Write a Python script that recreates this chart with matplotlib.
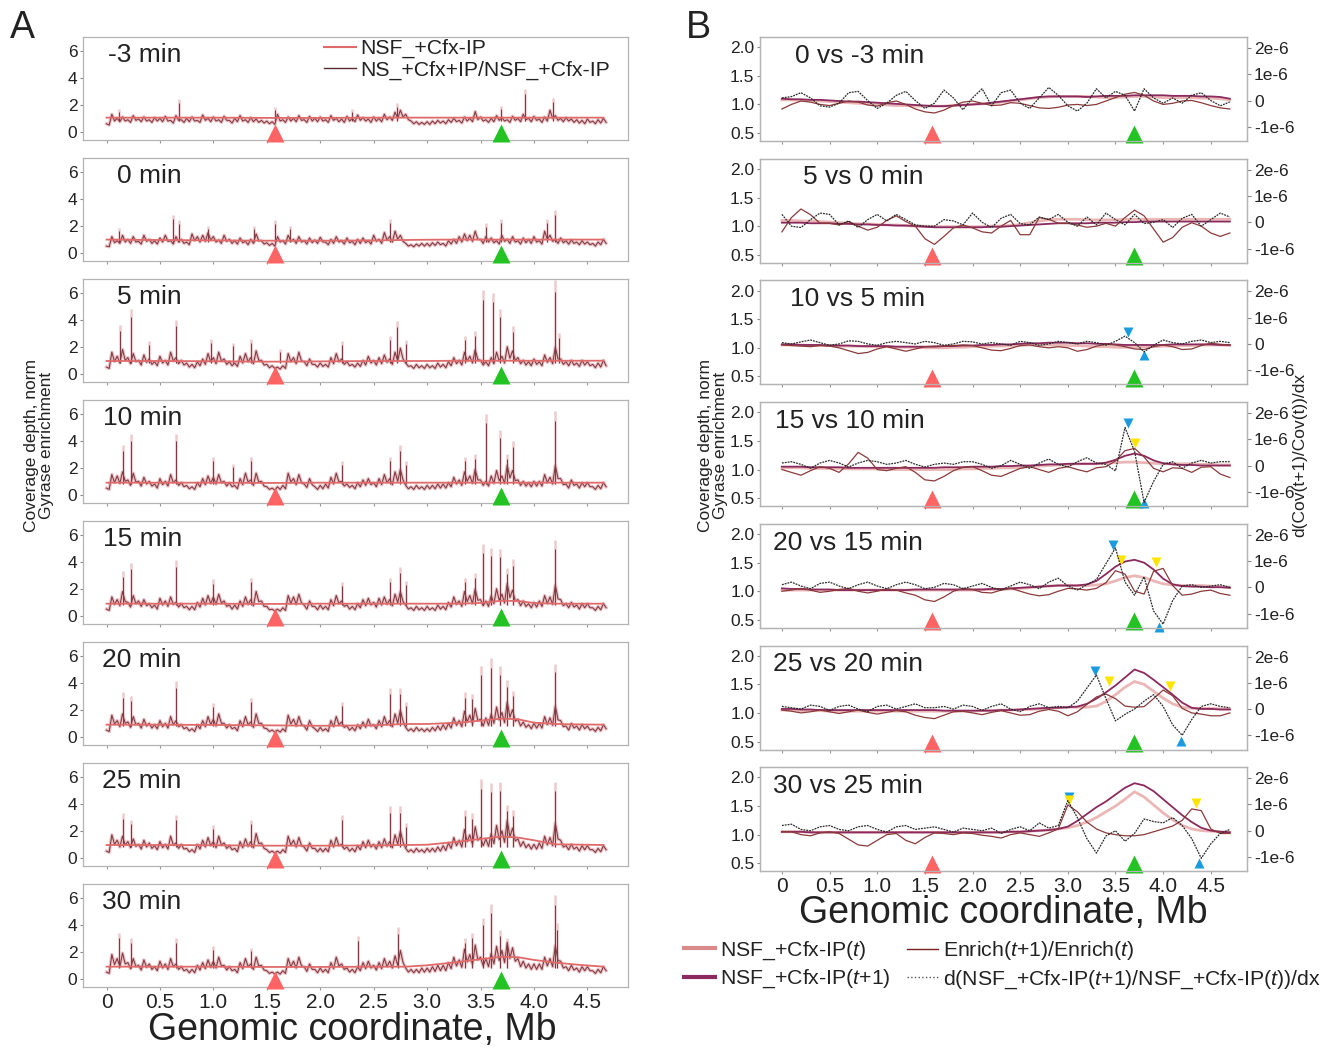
import numpy as np
import matplotlib
matplotlib.use('Agg')
import matplotlib.pyplot as plt
from matplotlib.lines import Line2D

plt.rcParams['font.family'] = ['Liberation Sans', 'DejaVu Sans']
plt.rcParams['mathtext.fontset'] = 'custom'
plt.rcParams['mathtext.it'] = 'Liberation Sans:italic'
plt.rcParams['mathtext.rm'] = 'Liberation Sans'
plt.rcParams['text.color'] = '#222222'

# ---------------- DATA ----------------
# Panel A: coverage ratio tracks; local maxima every 0.05 Mb (0 .. 4.65 Mb)
# and local minima between them (x + 0.025 Mb)
A_titles = ['-3 min', '0 min', '5 min', '10 min', '15 min', '20 min', '25 min', '30 min']
xA = np.round(np.arange(94) * 0.05, 2)

A_m3 = [0.6,1.3,1.0,1.1,0.9,1.2,0.95,1.1,0.9,1.05,
        1.0,1.15,0.85,1.2,0.9,1.0,1.1,0.85,1.25,1.0,
        1.1,0.9,1.15,0.85,1.0,1.2,0.9,1.05,0.95,0.85,
        0.8,0.75,1.3,0.9,1.1,1.0,1.2,0.9,1.15,1.0,
        1.1,0.9,1.2,1.0,0.95,1.15,1.0,1.25,1.05,0.95,
        1.1,1.0,1.3,1.1,1.45,1.6,1.3,0.8,0.75,0.7,
        0.75,0.8,0.85,0.8,0.9,1.0,0.85,1.1,1.0,1.5,
        1.1,0.9,1.0,1.2,1.05,0.9,1.15,1.0,1.3,1.0,
        1.15,0.95,1.1,1.6,1.2,1.0,1.05,0.95,0.9,0.85,
        0.95,0.8,0.9,1.0]
A_0 = [0.5,1.2,0.9,1.3,1.0,1.2,0.85,1.3,1.0,0.9,
       1.1,1.3,0.9,1.2,1.0,0.8,1.4,1.2,1.3,1.5,
       1.2,0.95,1.3,1.0,0.9,1.1,0.85,1.0,1.4,0.9,
       0.75,0.7,1.2,0.9,1.3,1.0,1.2,0.9,1.1,0.95,
       1.15,0.8,1.0,1.2,0.9,1.1,0.85,1.0,1.1,0.9,
       1.3,1.0,1.5,1.2,1.6,1.3,0.7,0.6,0.65,0.7,
       0.7,0.75,0.8,0.7,0.9,1.0,1.2,1.4,1.3,1.6,
       1.0,1.2,1.1,0.9,1.3,1.0,1.2,0.9,1.1,1.0,
       1.2,0.9,1.6,1.3,1.0,1.1,0.9,0.95,0.8,0.9,
       0.8,0.7,0.8,1.0]
A_5 = [0.5,1.6,1.3,1.8,1.2,1.5,1.0,1.4,1.1,0.9,
       1.3,1.0,1.6,1.2,1.0,0.8,0.7,0.9,1.1,1.5,
       1.2,1.6,1.1,0.9,0.8,1.3,1.5,1.2,1.7,1.0,
       0.7,0.6,0.5,0.6,1.5,1.2,1.6,0.9,1.1,0.7,
       0.8,0.7,1.2,1.5,1.1,0.9,0.7,0.8,1.0,1.3,
       1.0,1.2,1.4,1.1,1.6,1.9,0.8,0.6,0.7,0.6,
       0.7,0.6,0.8,0.7,0.9,1.2,1.0,1.6,1.3,1.8,
       1.0,0.9,1.2,1.6,1.3,2.0,1.7,1.2,1.0,0.9,
       1.1,0.9,1.4,1.2,2.0,1.1,0.9,1.0,0.8,1.0,
       0.9,0.7,0.8,1.0]
A_10 = [0.5,1.5,1.4,1.7,1.1,1.6,1.0,1.3,1.0,0.8,
        1.2,1.0,1.5,1.1,0.9,0.7,0.6,0.9,1.2,1.4,
        1.3,1.5,1.0,0.9,0.7,1.2,1.6,1.1,1.6,1.0,
        0.6,0.5,0.6,0.7,1.6,1.2,1.5,0.8,1.2,0.6,
        0.7,0.8,1.3,1.6,1.0,0.8,0.7,0.9,1.1,1.2,
        0.9,1.2,1.5,1.2,1.7,1.9,0.7,0.6,0.7,0.6,
        0.7,0.7,0.8,0.8,0.9,1.3,1.1,1.7,1.4,1.9,
        1.1,1.0,1.4,1.8,1.4,2.2,1.8,1.1,1.0,0.9,
        1.0,1.0,1.5,1.3,2.2,1.2,0.8,1.1,0.8,0.9,
        0.9,0.6,0.7,0.9]
A_15 = [0.5,1.4,1.2,1.8,1.0,1.5,1.1,1.2,0.9,0.8,
        1.3,1.1,1.4,1.0,0.9,0.7,0.7,1.0,1.3,1.5,
        1.4,1.6,1.1,0.8,0.8,1.1,1.4,1.2,1.8,1.1,
        0.7,0.5,0.5,0.6,1.5,1.4,1.6,0.8,1.1,0.7,
        0.8,0.7,1.2,1.5,1.1,0.8,0.7,0.9,1.2,1.3,
        1.0,1.3,1.4,1.2,1.6,1.8,0.8,0.6,0.7,0.6,
        0.7,0.6,0.8,0.7,1.0,1.4,1.1,1.8,1.5,2.0,
        1.2,1.1,1.5,2.0,1.6,2.4,1.9,1.2,1.1,0.9,
        1.0,1.1,1.5,1.4,2.3,1.2,0.9,1.0,0.8,0.9,
        0.9,0.6,0.7,0.9]
A_20 = [0.5,1.6,1.2,1.7,1.1,1.5,1.0,1.3,1.0,0.9,
        1.2,1.0,1.5,1.2,0.9,0.7,0.6,0.9,1.2,1.5,
        1.3,1.7,1.0,0.9,0.7,1.2,1.5,1.1,1.7,1.0,
        0.6,0.5,0.5,0.6,1.6,1.3,1.5,0.8,1.2,0.6,
        0.7,0.6,1.2,1.5,1.1,0.8,0.7,0.9,1.1,1.3,
        0.9,1.2,1.5,1.2,1.7,2.0,0.7,0.6,0.7,0.6,
        0.6,0.7,0.8,0.9,1.0,1.4,1.2,1.9,1.6,2.1,
        1.3,1.4,1.7,2.2,1.8,2.6,2.0,1.3,1.1,0.9,
        1.0,1.0,1.5,1.4,2.3,1.2,0.8,1.0,0.8,0.9,
        0.8,0.6,0.7,0.9]
A_25 = [0.5,1.7,1.3,1.6,1.2,1.4,1.0,1.3,1.1,0.9,
        1.2,1.0,1.6,1.1,1.0,0.7,0.6,1.0,1.3,1.5,
        1.2,1.6,1.1,0.9,0.7,1.2,1.4,1.2,1.8,1.1,
        0.6,0.5,0.5,0.6,1.6,1.3,1.5,0.8,1.1,0.7,
        0.7,0.7,1.3,1.5,1.0,0.8,0.7,0.9,1.2,1.3,
        1.0,1.2,1.4,1.2,1.7,2.0,0.7,0.6,0.7,0.6,
        0.7,0.7,0.8,0.9,1.1,1.5,1.3,2.1,1.7,2.3,
        1.5,1.4,1.8,2.4,2.0,2.8,2.2,1.4,1.2,1.0,
        1.0,1.1,1.6,1.5,2.6,1.3,0.9,1.0,0.8,0.9,
        0.9,0.6,0.7,0.9]
A_30 = [0.5,1.8,1.5,1.9,1.2,1.5,1.0,1.4,1.1,0.9,
        1.3,1.1,1.5,1.1,0.9,0.7,0.7,1.0,1.2,1.4,
        1.3,1.6,1.0,0.9,0.7,1.2,1.5,1.1,1.6,1.0,
        0.6,0.5,0.5,0.6,1.5,1.3,1.6,0.9,1.1,0.7,
        0.8,0.7,1.2,1.6,1.1,0.8,0.7,0.9,1.2,1.3,
        1.0,1.2,1.5,1.3,1.7,2.1,0.8,0.7,0.7,0.8,
        0.8,0.9,1.0,1.0,1.2,1.6,1.4,2.2,1.8,2.5,
        1.6,1.5,1.9,2.4,2.1,2.7,2.3,1.5,1.3,1.1,
        1.1,1.1,1.6,1.5,2.5,1.3,0.9,1.0,0.8,0.9,
        0.9,0.6,0.7,0.9]
A_tracks = [A_m3, A_0, A_5, A_10, A_15, A_20, A_25, A_30]

L_m3 = [0.5,0.8,0.75,0.8,0.7,0.85,0.75,0.8,0.7,0.8,
        0.75,0.8,0.65,0.85,0.7,0.75,0.8,0.7,0.85,0.75,
        0.8,0.7,0.85,0.65,0.75,0.8,0.7,0.75,0.7,0.65,
        0.6,0.55,0.8,0.7,0.8,0.75,0.85,0.7,0.8,0.75,
        0.8,0.7,0.85,0.75,0.7,0.8,0.75,0.85,0.8,0.7,
        0.8,0.75,0.9,0.85,1.0,1.1,0.9,0.6,0.55,0.55,
        0.55,0.6,0.65,0.6,0.7,0.75,0.65,0.8,0.75,0.9,
        0.8,0.7,0.75,0.85,0.8,0.7,0.85,0.75,0.9,0.75,
        0.85,0.7,0.8,1.0,0.85,0.75,0.8,0.7,0.65,0.6,
        0.7,0.6,0.65,0.7]
L_0 = [0.45,0.75,0.7,0.8,0.7,0.8,0.65,0.85,0.7,0.65,
       0.8,0.85,0.65,0.8,0.7,0.6,0.9,0.8,0.85,0.95,
       0.8,0.7,0.85,0.7,0.65,0.75,0.6,0.7,0.9,0.65,
       0.55,0.5,0.8,0.65,0.85,0.7,0.8,0.65,0.75,0.7,
       0.8,0.6,0.7,0.8,0.65,0.75,0.6,0.7,0.75,0.65,
       0.85,0.7,0.95,0.8,1.0,0.85,0.5,0.45,0.5,0.5,
       0.5,0.55,0.6,0.5,0.65,0.7,0.8,0.9,0.85,1.0,
       0.7,0.8,0.75,0.65,0.85,0.7,0.8,0.65,0.75,0.7,
       0.8,0.65,1.0,0.85,0.7,0.75,0.65,0.7,0.6,0.65,
       0.6,0.5,0.6,0.7]
L_5 = [0.4,0.9,0.8,1.0,0.75,0.9,0.65,0.85,0.7,0.6,
       0.8,0.65,0.95,0.75,0.65,0.5,0.45,0.6,0.7,0.9,
       0.75,0.95,0.7,0.6,0.55,0.8,0.9,0.75,1.0,0.65,
       0.45,0.4,0.35,0.4,0.9,0.75,0.95,0.6,0.7,0.5,
       0.55,0.5,0.75,0.9,0.7,0.6,0.5,0.55,0.65,0.8,
       0.65,0.75,0.85,0.7,0.95,1.1,0.55,0.4,0.45,0.4,
       0.45,0.4,0.5,0.45,0.6,0.75,0.65,0.95,0.8,1.05,
       0.65,0.6,0.75,0.95,0.8,1.15,1.0,0.75,0.65,0.6,
       0.7,0.6,0.85,0.75,1.1,0.7,0.6,0.65,0.55,0.65,
       0.6,0.45,0.5,0.6]
L_10 = [0.4,0.9,0.85,1.0,0.7,0.95,0.65,0.8,0.65,0.5,
        0.75,0.65,0.9,0.7,0.6,0.45,0.4,0.6,0.75,0.85,
        0.8,0.9,0.65,0.6,0.45,0.75,0.95,0.7,0.95,0.65,
        0.4,0.35,0.4,0.45,0.95,0.75,0.9,0.55,0.75,0.4,
        0.45,0.5,0.8,0.95,0.65,0.55,0.45,0.6,0.7,0.75,
        0.6,0.75,0.9,0.75,1.0,1.1,0.45,0.4,0.45,0.4,
        0.45,0.45,0.5,0.5,0.6,0.8,0.7,1.0,0.85,1.1,
        0.7,0.65,0.85,1.05,0.85,1.25,1.05,0.7,0.65,0.6,
        0.65,0.65,0.9,0.8,1.2,0.75,0.5,0.7,0.5,0.6,
        0.6,0.4,0.45,0.6]
L_15 = [0.4,0.85,0.75,1.05,0.65,0.9,0.7,0.75,0.6,0.5,
        0.8,0.7,0.85,0.65,0.6,0.45,0.45,0.65,0.8,0.9,
        0.85,0.95,0.7,0.5,0.5,0.7,0.85,0.75,1.05,0.7,
        0.45,0.35,0.35,0.4,0.9,0.85,0.95,0.5,0.7,0.45,
        0.5,0.45,0.75,0.9,0.7,0.5,0.45,0.6,0.75,0.8,
        0.65,0.8,0.85,0.75,0.95,1.05,0.5,0.4,0.45,0.4,
        0.45,0.4,0.5,0.45,0.65,0.85,0.7,1.05,0.9,1.15,
        0.75,0.7,0.9,1.15,0.95,1.35,1.1,0.75,0.7,0.6,
        0.65,0.7,0.9,0.85,1.25,0.75,0.6,0.65,0.5,0.6,
        0.6,0.4,0.45,0.6]
L_20 = [0.4,0.95,0.75,1.0,0.7,0.9,0.65,0.8,0.65,0.6,
        0.75,0.65,0.9,0.75,0.6,0.45,0.4,0.6,0.75,0.9,
        0.8,1.0,0.65,0.6,0.45,0.75,0.9,0.7,1.0,0.65,
        0.4,0.35,0.35,0.4,0.95,0.8,0.9,0.5,0.75,0.4,
        0.45,0.4,0.75,0.9,0.7,0.5,0.45,0.6,0.7,0.8,
        0.6,0.75,0.9,0.75,1.0,1.15,0.45,0.4,0.45,0.4,
        0.4,0.45,0.5,0.55,0.65,0.85,0.75,1.1,0.95,1.2,
        0.8,0.85,1.0,1.25,1.05,1.45,1.15,0.8,0.7,0.6,
        0.65,0.65,0.9,0.85,1.25,0.75,0.5,0.65,0.5,0.6,
        0.5,0.4,0.45,0.6]
L_25 = [0.4,1.0,0.8,0.95,0.75,0.85,0.65,0.8,0.7,0.6,
        0.75,0.65,0.95,0.7,0.65,0.45,0.4,0.65,0.8,0.9,
        0.75,0.95,0.7,0.6,0.45,0.75,0.85,0.75,1.05,0.7,
        0.4,0.35,0.35,0.4,0.95,0.8,0.9,0.5,0.7,0.45,
        0.45,0.45,0.8,0.9,0.65,0.5,0.45,0.6,0.75,0.8,
        0.65,0.75,0.85,0.75,1.0,1.15,0.45,0.4,0.45,0.4,
        0.45,0.45,0.5,0.55,0.7,0.9,0.8,1.2,1.0,1.3,
        0.9,0.85,1.05,1.35,1.15,1.55,1.25,0.85,0.75,0.65,
        0.65,0.7,0.95,0.9,1.4,0.8,0.6,0.65,0.5,0.6,
        0.6,0.4,0.45,0.6]
L_30 = [0.4,1.05,0.9,1.1,0.75,0.9,0.65,0.85,0.7,0.6,
        0.8,0.7,0.9,0.7,0.6,0.45,0.45,0.65,0.75,0.85,
        0.8,0.95,0.65,0.6,0.45,0.75,0.9,0.7,0.95,0.65,
        0.4,0.35,0.35,0.4,0.9,0.8,0.95,0.55,0.7,0.45,
        0.5,0.45,0.75,0.95,0.7,0.5,0.45,0.6,0.75,0.8,
        0.65,0.75,0.9,0.8,1.0,1.2,0.5,0.45,0.45,0.5,
        0.5,0.55,0.6,0.6,0.75,0.95,0.85,1.25,1.05,1.4,
        0.95,0.9,1.1,1.35,1.2,1.5,1.3,0.9,0.8,0.7,
        0.7,0.7,0.95,0.9,1.35,0.8,0.6,0.65,0.5,0.6,
        0.6,0.4,0.45,0.6]
A_lows = [L_m3, L_0, L_5, L_10, L_15, L_20, L_25, L_30]

# sharp peaks (position Mb, height)
spk_x_m3 = [0.12, 0.68, 1.58, 2.30, 2.72, 3.69, 3.92, 4.18]
spk_y_m3 = [1.7, 2.4, 1.8, 1.7, 2.1, 1.9, 3.2, 2.5]
spk_x_0 = [0.12, 0.62, 0.68, 0.95, 1.38, 1.58, 1.72, 2.65, 3.55, 3.69, 4.12, 4.20]
spk_y_0 = [1.8, 2.8, 2.4, 2.0, 2.0, 2.4, 2.0, 2.5, 2.2, 2.5, 2.5, 3.2]
spk_x_5 = [0.13, 0.23, 0.40, 0.65, 0.98, 1.18, 1.35, 1.62, 2.20, 2.65, 2.72, 2.80, 3.35, 3.45, 3.52, 3.62, 3.68, 3.80, 4.20, 4.23]
spk_y_5 = [3.6, 4.8, 2.4, 4.0, 2.6, 2.3, 2.6, 1.8, 2.4, 2.8, 3.9, 2.5, 2.8, 3.2, 6.2, 6.0, 4.8, 3.5, 6.9, 3.0]
spk_x_10 = [0.15, 0.23, 0.65, 1.00, 1.18, 1.35, 2.20, 2.65, 2.75, 2.80, 3.35, 3.45, 3.55, 3.68, 3.75, 3.80, 4.20]
spk_y_10 = [3.7, 4.5, 4.5, 2.8, 2.3, 2.8, 2.5, 2.8, 3.7, 2.5, 2.8, 3.0, 6.0, 4.8, 3.0, 4.0, 6.2]
spk_x_15 = [0.15, 0.23, 0.65, 1.00, 1.35, 2.20, 2.65, 2.75, 2.80, 3.35, 3.45, 3.52, 3.60, 3.68, 3.75, 3.80, 4.20]
spk_y_15 = [3.3, 3.9, 4.1, 2.7, 2.8, 2.5, 2.8, 3.6, 2.6, 2.8, 3.2, 5.3, 5.0, 4.9, 3.5, 4.2, 5.6]
spk_x_20 = [0.15, 0.23, 0.65, 1.00, 1.35, 2.20, 2.65, 2.75, 2.80, 3.35, 3.42, 3.50, 3.60, 3.68, 3.75, 3.80, 4.20]
spk_y_20 = [3.3, 3.0, 4.1, 2.5, 2.9, 2.6, 3.6, 3.6, 2.6, 3.3, 3.2, 5.2, 5.8, 5.2, 4.2, 3.4, 5.4]
spk_x_25 = [0.15, 0.23, 0.65, 1.00, 1.35, 2.20, 2.65, 2.75, 2.80, 3.35, 3.42, 3.50, 3.60, 3.68, 3.75, 3.80, 4.20]
spk_y_25 = [3.3, 2.8, 3.2, 2.4, 2.8, 3.2, 3.8, 3.8, 2.6, 3.5, 3.3, 5.8, 5.5, 5.6, 3.9, 3.5, 5.6]
spk_x_30 = [0.12, 0.23, 0.65, 1.00, 1.35, 2.35, 2.73, 3.35, 3.42, 3.52, 3.60, 3.68, 3.75, 4.20, 4.22]
spk_y_30 = [3.4, 3.0, 3.0, 2.4, 2.3, 3.2, 3.8, 3.0, 3.4, 4.5, 5.5, 3.6, 3.0, 6.2, 4.1]
A_spk_x = [spk_x_m3, spk_x_0, spk_x_5, spk_x_10, spk_x_15, spk_x_20, spk_x_25, spk_x_30]
A_spk_y = [spk_y_m3, spk_y_0, spk_y_5, spk_y_10, spk_y_15, spk_y_20, spk_y_25, spk_y_30]

# smooth NSF_+Cfx-IP line in panel A
redX = [0, 0.5, 1.0, 1.5, 2.0, 2.5, 2.8, 3.0, 3.3, 3.5, 3.7, 3.85, 4.0, 4.2, 4.4, 4.65]
red_m3 = [1.05,1.05,1.05,1.03,1.03,1.05,1.05,1.05,1.05,1.05,1.05,1.05,1.05,1.05,1.05,1.05]
red_0 = [0.98,0.95,0.92,0.9,0.9,0.92,0.95,0.97,0.98,0.98,0.98,0.98,0.98,0.98,0.98,0.98]
red_5 = [0.95,0.95,0.93,0.9,0.92,0.95,0.95,0.95,0.97,0.97,0.97,0.97,0.97,0.97,0.97,0.97]
red_10 = [0.9,0.9,0.9,0.88,0.9,0.9,0.9,0.9,0.9,0.9,0.9,0.9,0.9,0.9,0.9,0.9]
red_15 = [0.9,0.9,0.9,0.88,0.9,0.9,0.9,0.9,0.9,0.95,1.12,1.1,0.95,0.9,0.9,0.9]
red_20 = [0.9,0.9,0.88,0.85,0.82,0.85,0.95,0.95,1.05,1.2,1.35,1.3,1.05,0.95,0.92,0.9]
red_25 = [0.95,0.95,0.93,0.9,0.9,0.92,0.95,0.97,1.2,1.4,1.57,1.5,1.3,1.0,0.98,0.95]
red_30 = [0.9,0.9,0.9,0.88,0.88,0.9,0.9,1.0,1.25,1.45,1.63,1.6,1.4,1.2,1.05,0.9]
A_red = [red_m3, red_0, red_5, red_10, red_15, red_20, red_25, red_30]

site_x = [1.58, 3.69]
site_colors = ['#ff6464', '#22c322']
x_ticks = [0, 0.5, 1.0, 1.5, 2.0, 2.5, 3.0, 3.5, 4.0, 4.5]
x_ticklabels = ['0', '0.5', '1.0', '1.5', '2.0', '2.5', '3.0', '3.5', '4.0', '4.5']

# Panel B: smoothed profiles sampled every 0.1 Mb (0 .. 4.7 Mb)
B_titles = ['0 vs -3 min', '5 vs 0 min', '10 vs 5 min', '15 vs 10 min',
            '20 vs 15 min', '25 vs 20 min', '30 vs 25 min']
xB = np.round(np.arange(48) * 0.1, 1)

B1_t = [1.08,1.08,1.07,1.07,1.06,1.05,1.04,1.03,1.02,1.01,1.00,0.99,0.98,0.98,0.97,0.97,0.97,0.97,0.98,0.99,
        1.00,1.01,1.02,1.04,1.06,1.08,1.10,1.12,1.13,1.14,1.14,1.14,1.14,1.13,1.12,1.12,1.13,1.14,1.14,1.13,
        1.12,1.12,1.12,1.12,1.11,1.11,1.10,1.08]
B1_t1 = [1.10,1.09,1.09,1.08,1.08,1.07,1.06,1.05,1.05,1.04,1.03,1.02,1.01,1.00,0.99,0.98,0.97,0.97,0.98,0.99,
         1.00,1.01,1.03,1.05,1.07,1.09,1.11,1.13,1.14,1.14,1.14,1.14,1.13,1.14,1.15,1.15,1.15,1.16,1.16,1.16,
         1.16,1.15,1.15,1.15,1.14,1.14,1.13,1.10]
B1_en = [0.92,1.00,1.06,1.04,1.00,0.98,1.02,1.06,1.04,0.99,0.97,1.03,1.06,1.00,0.92,0.87,0.85,0.90,0.98,1.04,
         1.06,1.02,0.98,0.99,1.03,1.02,0.98,0.94,0.93,0.95,0.99,1.00,0.98,1.00,1.06,1.12,1.18,1.21,1.16,1.06,
         1.00,1.02,1.06,1.07,1.03,0.98,0.94,0.92]
B1_d = [0.10,0.15,0.30,0.10,-0.20,-0.25,-0.10,0.30,0.35,0.00,-0.30,-0.10,0.20,0.35,0.00,-0.30,-0.10,0.40,0.10,-0.35,
        0.10,0.45,-0.20,0.30,0.40,-0.10,-0.30,0.10,0.50,0.20,-0.20,-0.40,-0.10,0.45,0.10,0.35,0.20,-0.40,0.45,0.10,
        -0.10,0.10,-0.10,0.20,0.30,0.00,-0.20,-0.05]

B2_t = [1.10,1.10,1.09,1.09,1.08,1.07,1.06,1.05,1.04,1.04,1.03,1.02,1.02,1.01,1.00,1.00,0.99,0.99,0.99,0.99,
        0.99,0.99,1.00,1.00,1.01,1.03,1.06,1.09,1.11,1.12,1.12,1.12,1.11,1.11,1.11,1.11,1.12,1.12,1.12,1.12,
        1.12,1.12,1.12,1.12,1.12,1.12,1.12,1.12]
B2_t1 = [1.06,1.06,1.06,1.05,1.05,1.05,1.04,1.04,1.03,1.03,1.02,1.02,1.01,1.01,1.00,0.99,0.98,0.98,0.98,0.98,
         0.98,0.98,0.99,0.99,1.00,1.01,1.02,1.03,1.04,1.05,1.05,1.05,1.05,1.06,1.06,1.06,1.07,1.07,1.08,1.08,
         1.08,1.08,1.08,1.08,1.08,1.08,1.08,1.08]
B2_en = [0.90,1.15,1.30,1.20,1.05,1.05,1.02,1.08,1.00,0.93,0.98,1.10,1.18,1.08,1.00,0.78,0.68,0.82,0.97,1.02,
         0.97,0.90,0.88,1.00,1.10,0.85,0.85,1.15,1.12,1.05,1.05,1.02,0.98,1.00,1.05,1.00,1.15,1.28,1.18,0.95,
         0.72,0.80,0.98,1.06,1.00,0.88,0.82,0.88]
B2_d = [0.30,-0.15,-0.20,0.10,0.35,0.30,-0.10,0.05,-0.20,0.10,0.30,0.05,0.30,0.10,-0.10,-0.15,-0.15,0.10,0.05,-0.10,
        0.35,0.00,-0.20,0.15,0.30,-0.05,-0.10,0.20,0.10,0.30,0.00,-0.15,0.20,-0.10,0.35,0.10,-0.10,0.30,-0.05,0.00,
        0.10,-0.20,0.15,0.30,-0.15,0.10,0.35,0.20]

B3_t = [1.05,1.05,1.05,1.04,1.04,1.04,1.03,1.03,1.03,1.02,1.02,1.02,1.01,1.01,1.01,1.00,1.00,1.00,1.01,1.01,
        1.02,1.02,1.03,1.03,1.04,1.04,1.05,1.05,1.05,1.05,1.04,1.04,1.03,1.02,1.02,1.01,1.01,1.01,1.02,1.02,
        1.03,1.03,1.04,1.04,1.05,1.05,1.05,1.04]
B3_t1 = [1.06,1.06,1.05,1.05,1.05,1.04,1.04,1.04,1.03,1.03,1.03,1.03,1.02,1.02,1.02,1.02,1.02,1.03,1.03,1.04,
         1.04,1.05,1.05,1.06,1.06,1.07,1.08,1.08,1.09,1.09,1.09,1.08,1.08,1.07,1.07,1.06,1.05,1.05,1.05,1.05,
         1.05,1.06,1.06,1.06,1.06,1.06,1.05,1.05]
B3_en = [1.05,1.04,1.03,1.02,1.04,1.03,1.00,0.95,0.90,0.92,0.98,1.02,0.98,0.94,0.98,1.02,1.03,1.03,1.04,1.05,
         1.04,1.00,0.96,0.95,0.99,1.04,1.05,1.02,1.00,1.02,1.00,0.94,0.97,1.03,1.06,1.05,1.02,0.98,0.97,1.02,
         1.05,1.02,0.97,0.98,1.04,1.08,1.06,1.05]
B3_d = [0.05,0.00,0.08,0.15,0.05,-0.05,0.00,0.12,0.10,0.00,-0.05,0.05,0.10,0.05,0.00,0.10,0.05,-0.05,0.00,0.10,
        0.08,0.00,0.05,0.00,-0.05,0.10,0.05,-0.05,0.00,0.10,0.05,0.00,0.10,0.05,-0.05,0.10,0.30,0.05,-0.30,-0.05,
        0.15,0.05,0.00,0.10,0.15,0.05,0.10,0.05]

B4_t = [1.03,1.03,1.03,1.02,1.02,1.02,1.02,1.01,1.01,1.01,1.01,1.00,1.00,1.00,1.00,1.00,1.00,1.00,1.00,1.01,
        1.01,1.02,1.02,1.03,1.03,1.04,1.05,1.06,1.07,1.08,1.09,1.10,1.10,1.10,1.11,1.12,1.13,1.13,1.12,1.11,
        1.10,1.10,1.10,1.10,1.09,1.09,1.08,1.08]
B4_t1 = [1.05,1.05,1.05,1.04,1.04,1.04,1.04,1.03,1.03,1.03,1.03,1.03,1.03,1.03,1.03,1.03,1.03,1.04,1.04,1.04,
         1.05,1.05,1.05,1.06,1.06,1.07,1.07,1.08,1.09,1.09,1.10,1.10,1.10,1.10,1.12,1.17,1.24,1.28,1.24,1.16,
         1.11,1.09,1.08,1.08,1.07,1.07,1.07,1.07]
B4_en = [1.00,0.95,0.90,0.98,1.05,1.02,0.95,1.10,1.30,1.20,1.00,0.98,1.02,1.05,0.95,0.82,0.80,0.88,0.98,1.04,
         1.05,0.98,0.90,0.88,0.95,1.02,1.05,1.00,0.95,1.02,1.05,1.00,0.96,1.03,1.05,1.15,1.33,1.37,1.22,1.02,
         0.96,1.03,1.02,0.95,1.04,1.05,0.92,0.86]
B4_d = [0.10,0.15,0.05,-0.10,0.10,0.20,0.10,-0.05,0.10,0.20,0.15,0.05,0.10,0.20,0.05,-0.05,0.05,0.10,0.05,0.15,
        0.15,0.05,-0.10,0.00,0.20,0.05,-0.10,0.10,0.25,0.05,-0.05,0.15,0.30,0.10,0.05,-0.20,1.45,0.55,-1.40,-0.60,
        0.05,0.15,-0.10,0.10,0.20,0.10,0.15,0.15]

B5_t = [1.02,1.02,1.02,1.02,1.02,1.02,1.02,1.02,1.02,1.02,1.02,1.02,1.02,1.02,1.02,1.02,1.02,1.02,1.02,1.02,
        1.02,1.03,1.03,1.03,1.04,1.05,1.06,1.08,1.09,1.10,1.10,1.10,1.10,1.11,1.13,1.18,1.24,1.27,1.24,1.18,
        1.13,1.11,1.10,1.10,1.10,1.09,1.08,1.07]
B5_t1 = [1.05,1.04,1.04,1.03,1.03,1.03,1.02,1.02,1.02,1.02,1.02,1.02,1.02,1.02,1.03,1.03,1.03,1.03,1.03,1.03,
         1.03,1.03,1.04,1.04,1.05,1.06,1.07,1.08,1.09,1.10,1.10,1.10,1.12,1.18,1.30,1.43,1.52,1.55,1.50,1.38,
         1.22,1.12,1.09,1.08,1.08,1.07,1.07,1.06]
B5_en = [1.00,1.02,1.05,1.02,0.98,1.00,1.03,1.05,1.00,0.97,1.00,1.04,1.02,0.97,0.93,0.85,0.82,0.90,1.00,1.05,
         1.03,0.98,0.97,1.02,1.05,1.00,0.95,0.92,0.94,1.00,1.05,1.04,1.02,1.05,1.15,1.36,1.30,1.00,0.95,1.35,
         1.40,1.10,0.93,0.95,1.00,1.02,0.96,0.93]
B5_d = [0.10,0.20,0.05,-0.05,0.15,0.20,0.05,-0.05,0.10,0.20,0.05,-0.05,0.10,0.20,0.10,-0.05,0.00,0.15,0.10,-0.05,
        0.05,0.15,0.00,-0.10,0.05,0.20,0.10,-0.05,0.20,0.35,0.05,-0.10,0.10,0.30,0.90,1.50,0.20,-0.30,0.40,-0.90,
        -1.40,-0.50,0.05,0.10,0.00,0.05,0.10,0.00]

B6_t = [1.05,1.05,1.04,1.04,1.04,1.03,1.03,1.03,1.03,1.03,1.03,1.03,1.03,1.03,1.03,1.03,1.03,1.03,1.03,1.03,
        1.03,1.04,1.04,1.05,1.05,1.06,1.06,1.07,1.08,1.09,1.10,1.10,1.10,1.12,1.20,1.32,1.45,1.55,1.50,1.38,
        1.26,1.16,1.10,1.08,1.08,1.08,1.07,1.07]
B6_t1 = [1.07,1.07,1.06,1.06,1.05,1.05,1.05,1.05,1.05,1.05,1.05,1.05,1.05,1.05,1.05,1.05,1.05,1.04,1.04,1.04,
         1.04,1.04,1.04,1.05,1.05,1.06,1.07,1.08,1.09,1.09,1.10,1.11,1.16,1.25,1.36,1.48,1.62,1.76,1.70,1.58,
         1.45,1.32,1.18,1.09,1.07,1.07,1.06,1.06]
B6_en = [1.05,1.03,1.00,1.02,1.05,1.02,0.99,1.02,1.05,1.01,0.98,1.01,1.04,1.02,0.96,0.92,0.90,0.96,1.02,1.03,
         1.00,0.97,1.01,1.04,1.00,0.96,0.97,1.03,1.06,1.03,0.95,1.02,1.15,1.28,1.33,1.25,1.12,1.10,1.11,1.25,
         1.40,1.30,1.08,1.00,0.98,0.95,0.95,1.00]
B6_d = [0.10,0.05,0.00,0.15,0.10,-0.05,0.10,0.15,0.00,-0.10,0.10,0.15,0.00,0.10,0.20,0.05,0.05,0.10,0.00,0.15,
        0.10,-0.05,0.10,0.20,0.00,-0.10,0.10,0.20,0.05,0.10,0.05,0.30,0.80,1.30,0.40,-0.45,-0.20,0.00,0.30,0.55,
        0.10,-0.60,-1.00,-0.40,0.10,0.20,0.10,0.05]

B7_t = [1.05,1.05,1.05,1.04,1.04,1.04,1.04,1.04,1.04,1.04,1.04,1.04,1.04,1.04,1.04,1.04,1.04,1.04,1.04,1.04,
        1.04,1.04,1.04,1.04,1.05,1.05,1.06,1.07,1.08,1.10,1.12,1.16,1.22,1.30,1.40,1.50,1.62,1.75,1.66,1.52,
        1.38,1.26,1.16,1.10,1.07,1.06,1.05,1.04]
B7_t1 = [1.05,1.05,1.05,1.04,1.04,1.04,1.04,1.04,1.04,1.04,1.04,1.04,1.04,1.04,1.04,1.04,1.04,1.04,1.04,1.04,
         1.04,1.04,1.04,1.04,1.05,1.05,1.06,1.07,1.08,1.10,1.14,1.24,1.36,1.48,1.58,1.70,1.82,1.90,1.86,1.76,
         1.62,1.48,1.34,1.22,1.12,1.07,1.05,1.04]
B7_en = [1.05,1.05,1.00,0.98,1.03,1.05,1.02,0.92,0.82,0.80,0.90,1.00,1.02,0.90,0.84,0.95,1.03,1.02,1.00,1.03,
         1.02,0.99,0.97,0.94,1.00,1.03,1.00,0.97,1.03,1.10,1.52,1.40,1.22,1.10,1.03,1.00,0.98,0.98,1.00,1.05,
         1.10,1.15,1.25,1.45,1.42,1.10,1.02,1.02]
B7_d = [0.20,0.25,0.05,0.00,0.15,0.20,0.05,0.00,0.15,0.20,0.05,-0.05,0.15,0.20,0.05,0.10,0.15,0.05,-0.05,0.10,
        0.05,0.00,0.10,-0.10,0.05,0.15,0.00,0.30,0.10,0.20,1.15,0.50,-0.30,-0.85,-0.20,0.00,-0.40,-0.10,0.45,0.35,
        0.30,0.50,0.20,-0.30,-1.05,-0.50,-0.10,0.05]

B_t = [B1_t, B2_t, B3_t, B4_t, B5_t, B6_t, B7_t]
B_t1 = [B1_t1, B2_t1, B3_t1, B4_t1, B5_t1, B6_t1, B7_t1]
B_en = [B1_en, B2_en, B3_en, B4_en, B5_en, B6_en, B7_en]
B_d = [B1_d, B2_d, B3_d, B4_d, B5_d, B6_d, B7_d]   # in units of 1e-6

# annotated extremes (panel index, x Mb, y in coverage units)
blue_dn_panel = [2, 3, 4, 5, 6]
blue_dn_x = [3.63, 3.63, 3.47, 3.29, 3.01]
blue_dn_y = [1.28, 1.81, 1.81, 1.74, 1.65]
blue_up_panel = [2, 3, 4, 5, 6]
blue_up_x = [3.80, 3.80, 3.96, 4.19, 4.38]
blue_up_y = [0.88, 0.42, 0.37, 0.51, 0.51]
yel_panel = [3, 4, 4, 5, 5, 6, 6]
yel_x = [3.70, 3.56, 3.92, 3.43, 4.07, 3.01, 4.35]
yel_y = [1.47, 1.54, 1.51, 1.56, 1.47, 1.60, 1.56]

for arr in A_tracks + A_lows:
    assert len(arr) == len(xA), len(arr)
for a, b in zip(A_spk_x, A_spk_y):
    assert len(a) == len(b)
for grp in (B_t, B_t1, B_en, B_d):
    for arr in grp:
        assert len(arr) == len(xB), len(arr)

# ---------------- FIGURE ----------------
W, H = 1333, 1048
fig = plt.figure(figsize=(W / 100, H / 100), dpi=100)
SPINE = '#b4b4b4'


def rect(left, top, w, h):
    return [left / W, 1 - (top + h) / H, w / W, h / H]


def style_spines(ax):
    for s in ax.spines.values():
        s.set_color(SPINE)
        s.set_linewidth(0.9)


# zig-zag series: maxima at xA, minima halfway between
x_zig = np.empty(2 * len(xA))
x_zig[0::2] = xA
x_zig[1::2] = xA + 0.025

# ---- Panel A ----
A_title_x = [0.046, 0.062, 0.062, 0.037, 0.037, 0.035, 0.035, 0.035]
for i in range(8):
    ax = fig.add_axes(rect(83, 37 + 121 * i, 545, 103))
    ax.set_xlim(-0.22, 4.88)
    ax.set_ylim(-0.6, 7.0)
    y_zig = np.empty(2 * len(xA))
    y_zig[0::2] = A_tracks[i]
    y_zig[1::2] = A_lows[i]
    ax.vlines(A_spk_x[i], 0.8, A_spk_y[i], color='#efcacd', lw=1.8, zorder=1)
    ax.plot(x_zig, y_zig, color='#ebbfc3', lw=2.4, zorder=1)
    ax.vlines(A_spk_x[i], 0.8, np.array(A_spk_y[i]) * 0.88, color='#7d3a42', lw=0.75, zorder=2)
    ax.plot(x_zig, y_zig, color='#7d3a42', lw=0.75, zorder=2)
    ax.plot(redX, A_red[i], color='#e06a6a', lw=1.3, zorder=3)
    for sx, sc in zip(site_x, site_colors):
        ax.plot([sx], [-0.05], marker='^', ms=13, color=sc, mec='none', clip_on=False, zorder=5)
    style_spines(ax)
    ax.set_yticks([0, 2, 4, 6])
    ax.set_xticks(x_ticks)
    ax.tick_params(axis='y', labelsize=12.5, length=2, color='#888888', pad=2, labelcolor='#222222')
    ax.tick_params(axis='x', length=2.5, color='#999999', pad=1.5)
    if i == 7:
        ax.set_xticklabels(x_ticklabels, fontsize=15, color='#222222')
    else:
        ax.set_xticklabels([])
    ax.text(A_title_x[i], 0.83, A_titles[i], transform=ax.transAxes, fontsize=19,
            va='center', ha='left', color='#222222')

# legend A
hA = [Line2D([], [], color='#e06a6a', lw=1.5), Line2D([], [], color='#5a2a2e', lw=1.0)]
fig.legend(hA, ['NSF_+Cfx-IP', 'NS_+Cfx+IP/NSF_+Cfx-IP'], loc='upper left',
           bbox_to_anchor=(324 / W, 1 - 39 / H), frameon=False, fontsize=15.3,
           handlelength=1.5, handletextpad=0.2, labelspacing=0.12, borderpad=0, borderaxespad=0)

# ---- Panel B ----
B_title_x = [0.072, 0.088, 0.062, 0.031, 0.027, 0.027, 0.027]
for i in range(7):
    top = 37 + 121.7 * i
    ax = fig.add_axes(rect(760, top, 487, 104))
    ax2 = ax.twinx()
    ax.set_xlim(-0.23, 4.88)
    ax.set_ylim(0.36, 2.18)
    ax2.set_ylim(-1.54, 2.42)
    ax.plot(xB, B_t[i], color='#e7a4a4', lw=2.0, alpha=0.8, zorder=2)
    ax.plot(xB, B_t1[i], color='#8a2a5e', lw=1.3, zorder=3)
    ax.plot(xB, B_en[i], color='#8b3a3a', lw=0.9, zorder=4)
    ax2.plot(xB, B_d[i], color='#2a2a2a', lw=0.9, ls=(0, (1.5, 0.8)), zorder=4)
    for sx, sc in zip(site_x, site_colors):
        ax.plot([sx], [0.48], marker='^', ms=13, color=sc, mec='none', clip_on=False, zorder=5)
    for p, mx, my in zip(blue_dn_panel, blue_dn_x, blue_dn_y):
        if p == i:
            ax.plot([mx], [my], marker='v', ms=7, color='#1a9be0', mec='none', clip_on=False, zorder=6)
    for p, mx, my in zip(blue_up_panel, blue_up_x, blue_up_y):
        if p == i:
            ax.plot([mx], [my], marker='^', ms=7, color='#1a9be0', mec='none', clip_on=False, zorder=6)
    for p, mx, my in zip(yel_panel, yel_x, yel_y):
        if p == i:
            ax.plot([mx], [my], marker='v', ms=7, color='#ffe400', mec='none', clip_on=False, zorder=6)
    style_spines(ax)
    style_spines(ax2)
    ax.set_yticks([0.5, 1.0, 1.5, 2.0])
    ax.set_yticklabels(['0.5', '1.0', '1.5', '2.0'])
    ax2.set_yticks([-1, 0, 1, 2])
    ax2.set_yticklabels(['-1e-6', '0', '1e-6', '2e-6'])
    ax.tick_params(axis='y', labelsize=12.5, length=2, color='#888888', pad=2, labelcolor='#222222')
    ax2.tick_params(axis='y', labelsize=12.5, length=3, color='#888888', pad=2, labelcolor='#222222')
    ax.set_xticks(x_ticks)
    ax.tick_params(axis='x', length=2.5, color='#999999', pad=1.5)
    if i == 6:
        ax.set_xticklabels(x_ticklabels, fontsize=15, color='#222222')
    else:
        ax.set_xticklabels([])
    ax.text(B_title_x[i], 0.82, B_titles[i], transform=ax.transAxes, fontsize=19,
            va='center', ha='left', color='#222222')

# legend B (two columns)
hB1 = [Line2D([], [], color='#d98a8a', lw=3), Line2D([], [], color='#8a2a5e', lw=3)]
fig.legend(hB1, ['NSF_+Cfx-IP($\\mathit{t}$)', 'NSF_+Cfx-IP($\\mathit{t}$+$\\mathit{1}$)'],
           loc='upper left', bbox_to_anchor=(684 / W, 1 - 939 / H), frameon=False, fontsize=15.3,
           handlelength=1.45, handletextpad=0.25, labelspacing=0.3, borderpad=0, borderaxespad=0)
hB2 = [Line2D([], [], color='#7a1e1e', lw=1.0), Line2D([], [], color='#555555', lw=1.0, ls=':')]
fig.legend(hB2, ['Enrich($\\mathit{t}$+$\\mathit{1}$)/Enrich($\\mathit{t}$)',
                 'd(NSF_+Cfx-IP($\\mathit{t}$+$\\mathit{1}$)/NSF_+Cfx-IP($\\mathit{t}$))/dx'],
           loc='upper left', bbox_to_anchor=(907 / W, 1 - 939 / H), frameon=False, fontsize=15.3,
           handlelength=1.45, handletextpad=0.25, labelspacing=0.3, borderpad=0, borderaxespad=0)

# ---- Labels ----
fig.text(10 / W, 1 - 28 / H, 'A', fontsize=27, va='center', ha='left')
fig.text(686 / W, 1 - 28 / H, 'B', fontsize=27, va='center', ha='left')
fig.text(39 / W, 1 - 445 / H, 'Coverage depth, norm\nGyrase enrichment', rotation=90,
         ha='center', va='center', fontsize=12.5, linespacing=1.0)
fig.text(713 / W, 1 - 445 / H, 'Coverage depth, norm\nGyrase enrichment', rotation=90,
         ha='center', va='center', fontsize=12.5, linespacing=1.0)
fig.text(1300 / W, 1 - 455 / H, 'd(Cov(t+1)/Cov(t))/dx', rotation=90,
         ha='center', va='center', fontsize=12.5)
fig.text(352 / W, 1 - 1030 / H, 'Genomic coordinate, Mb', ha='center', va='center', fontsize=27)
fig.text(1003 / W, 1 - 913 / H, 'Genomic coordinate, Mb', ha='center', va='center', fontsize=27)

fig.savefig('out.png', dpi=100, facecolor='white')
